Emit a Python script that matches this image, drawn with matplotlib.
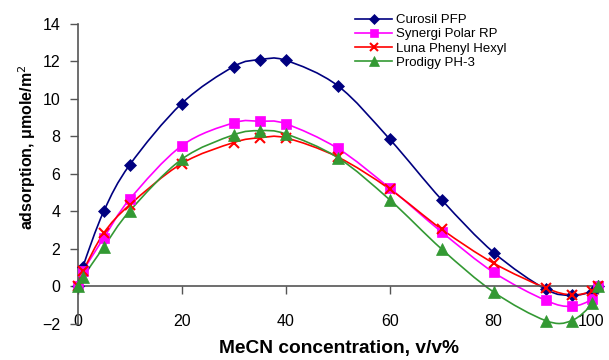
import numpy as np
import matplotlib
matplotlib.use("Agg")
import matplotlib.pyplot as plt
from matplotlib.path import Path
from matplotlib.patches import PathPatch
from matplotlib.lines import Line2D
from matplotlib.transforms import ScaledTranslation

plt.rcParams['font.family'] = ['Liberation Sans', 'DejaVu Sans']

# MeCN concentration, v/v%
mecn = [0, 1, 5, 10, 20, 30, 35, 40, 50, 60, 70, 80, 90, 95, 99, 100]

curosil = [0.0, 1.05, 4.0, 6.48, 9.75, 11.72, 12.08, 12.05, 10.7, 7.85, 4.62, 1.81, -0.15, -0.47, -0.27, 0.0]
synergi = [0.05, 0.8, 2.58, 4.65, 7.5, 8.72, 8.8, 8.67, 7.36, 5.24, 2.9, 0.75, -0.74, -1.06, -0.65, 0.0]
luna = [0.0, 0.8, 2.84, 4.35, 6.55, 7.67, 7.92, 7.92, 6.9, 5.19, 3.05, 1.24, -0.08, -0.45, -0.25, 0.03]
prodigy = [0.0, 0.48, 2.1, 4.02, 6.78, 8.08, 8.3, 8.13, 6.87, 4.62, 1.99, -0.3, -1.82, -1.82, -0.88, 0.05]

series = [
    ("Curosil PFP", curosil, "#000080", "D", 6),
    ("Synergi Polar RP", synergi, "#ff00ff", "s", 7),
    ("Luna Phenyl Hexyl", luna, "#ff0000", "x", 7),
    ("Prodigy PH-3", prodigy, "#339933", "^", 9),
]


def smooth_path(xs, ys):
    # Excel-like smoothed line: Catmull-Rom segments as cubic Beziers
    pts = np.column_stack([xs, ys]).astype(float)
    verts = [pts[0]]
    codes = [Path.MOVETO]
    n = len(pts)
    for i in range(n - 1):
        p0 = pts[i - 1] if i > 0 else pts[i]
        p1 = pts[i]
        p2 = pts[i + 1]
        p3 = pts[i + 2] if i + 2 < n else pts[i + 1]
        c1 = p1 + (p2 - p0) / 6.0
        c2 = p2 - (p3 - p1) / 6.0
        verts += [c1, c2, p2]
        codes += [Path.CURVE4] * 3
    return Path(verts, codes)


fig = plt.figure(figsize=(6.09, 3.6), dpi=100)
ax = fig.add_axes([0.1276, 0.1, 0.8538, 0.834])

handles = []
for name, vals, color, marker, ms in series:
    patch = PathPatch(smooth_path(mecn, vals), facecolor="none", edgecolor=color,
                      lw=1.2, clip_on=False, zorder=2)
    ax.add_patch(patch)
    mew = 1.5 if marker == "x" else 0.5
    ax.plot(mecn, vals, linestyle="none", marker=marker, ms=ms, color=color,
            mew=mew, clip_on=False, zorder=3)
    handles.append(Line2D([], [], color=color, lw=1.2, marker=marker,
                          ms=ms * 0.85, mew=mew))

ax.set_xlim(0, 100)
ax.set_ylim(-2, 14)
ax.set_xticks([0, 20, 40, 60, 80, 100])
ax.set_yticks(range(-2, 15, 2))

ax.spines['bottom'].set_position(('data', 0))
ax.spines['top'].set_visible(False)
ax.spines['right'].set_visible(False)
for sp in ax.spines.values():
    sp.set_color("#555555")
    sp.set_linewidth(1.2)

ax.tick_params(axis='x', direction='out', length=6, width=1, color="#555555",
               pad=14, labelsize=11.5)
ax.tick_params(axis='y', direction='out', length=6, width=1, color="#555555",
               pad=6.5, labelsize=11.5)

# nudge the "100" label left so it stays inside the figure
last = ax.xaxis.get_major_ticks()[-1].label1
last.set_transform(last.get_transform() + ScaledTranslation(-5 / 72, 0, fig.dpi_scale_trans))

fig.text(0.556, 0.033, "MeCN concentration, v/v%", fontsize=13.8, fontweight="bold",
         ha="center", va="center")
fig.text(0.045, 0.59, "adsorption, \u03bcmole/m$^2$", fontsize=11.5, fontweight="bold",
         ha="center", va="center", rotation=90)

ax.legend(handles, [s[0] for s in series], loc="upper left",
          bbox_to_anchor=(0.524, 1.05), frameon=False, fontsize=9.5,
          handlelength=2.8, handletextpad=0.25, labelspacing=0.15,
          borderaxespad=0)

fig.savefig("out.png", dpi=100)
